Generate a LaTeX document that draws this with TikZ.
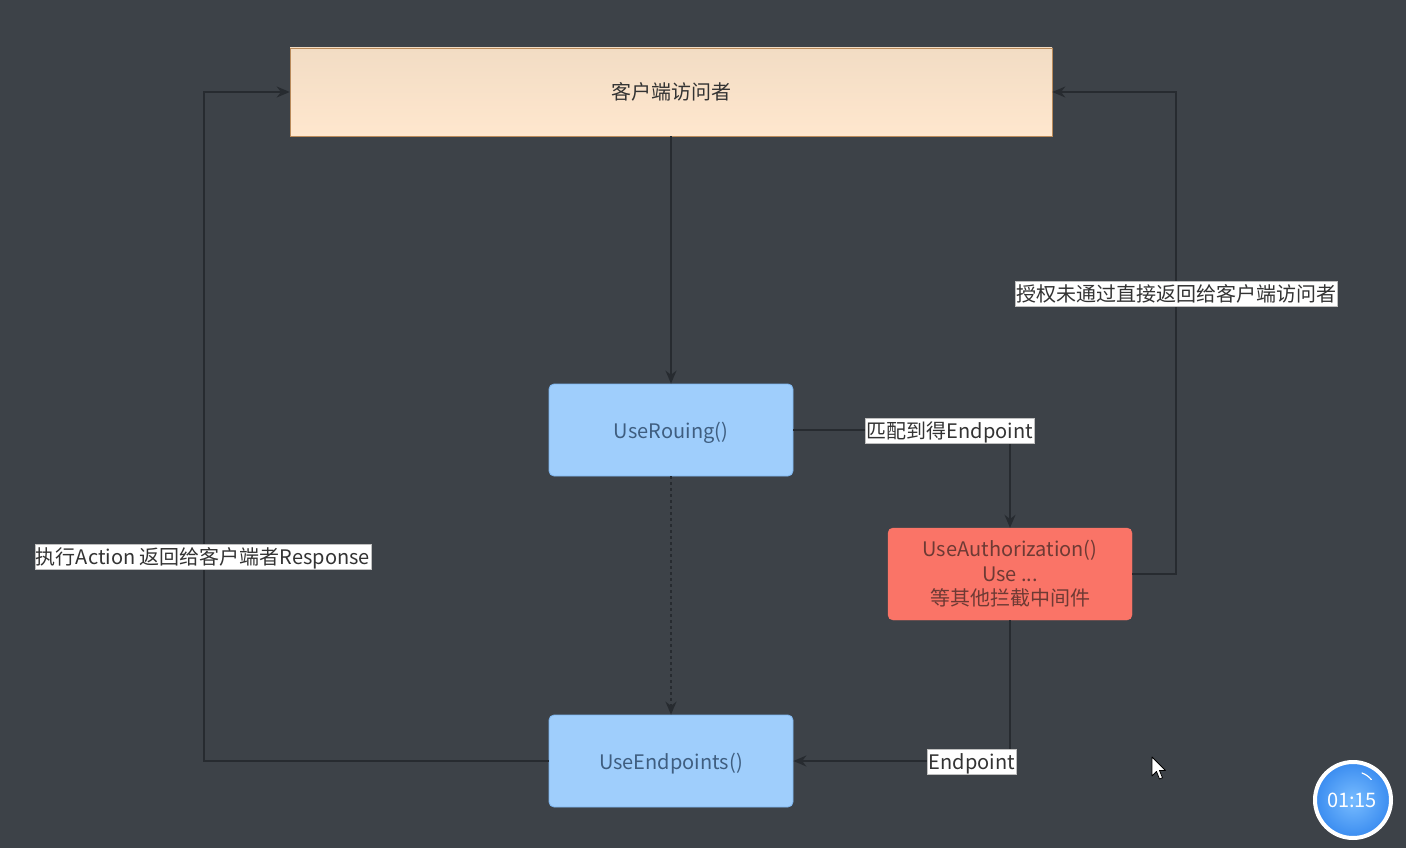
\documentclass[tikz,border=0pt]{standalone}
\usepackage{fontspec}
\setmainfont{Noto Sans CJK SC}
\usetikzlibrary{arrows.meta,shapes.geometric}
\definecolor{bg}{HTML}{3D4248}
\definecolor{edge}{HTML}{272B30}
\definecolor{peachtop}{HTML}{F2DCC4}
\definecolor{peachbot}{HTML}{FFE7CE}
\definecolor{peachline}{HTML}{B98A5A}
\definecolor{bluefill}{HTML}{9FCEFC}
\definecolor{blueline}{HTML}{7DB5EE}
\definecolor{bluetext}{HTML}{3F5E80}
\definecolor{redfill}{HTML}{FA7467}
\definecolor{redtext}{HTML}{6E3A34}
\definecolor{labeltext}{HTML}{333333}
\definecolor{timerA}{HTML}{3A8CF0}
\definecolor{timerB}{HTML}{78BCFF}
\tikzset{
  x=1pt, y=-1pt,
  every node/.style={font=\fontsize{20}{24}\selectfont},
  clientbox/.style={rectangle, minimum width=762pt, minimum height=88pt,
    top color=peachtop, bottom color=peachbot, draw=peachline, line width=0.6pt,
    text=labeltext, text height=20pt, text depth=4pt},
  bluebox/.style={rectangle, rounded corners=5pt, minimum width=244pt, minimum height=92pt,
    fill=bluefill, draw=blueline, line width=0.8pt, text=bluetext,
    text height=20pt, text depth=4pt},
  redbox/.style={rectangle, rounded corners=5pt, minimum width=244pt, minimum height=92pt,
    fill=redfill, draw=redfill, text=redtext, align=center,
    font=\fontsize{20}{24.5}\selectfont},
  conn/.style={draw=edge, line width=1.7pt,
    -{Stealth[length=13pt,width=11pt]}},
  edgelabel/.style={fill=white, draw=gray!50, line width=0.5pt, text=labeltext,
    inner sep=1.2pt, outer sep=0pt, text height=19pt, text depth=4pt}
}
\begin{document}
\begin{tikzpicture}
  % canvas
  \fill[bg] (0,0) rectangle (1406,848);
  \useasboundingbox (0,0) rectangle (1406,848);

  % boxes
  \node[clientbox] (client) at (671,92) {客户端访问者};
  \node[bluebox] (routing) at (671,430) {UseRouing()};
  \node[bluebox] (endpoints) at (671,761) {UseEndpoints()};
  \node[redbox] (auth) at (1010,574) {UseAuthorization()\\Use ...\\等其他拦截中间件};

  % bend points of the connectors
  \coordinate (rightbend) at (1176,574);
  \coordinate (leftbend) at (204,761);
  \coordinate (authdown) at (1010,761);

  % connectors
  \draw[conn] (client.south) -- (routing.north);
  \draw[conn, dash pattern=on 3pt off 3pt] (routing.south) -- (endpoints.north);
  \draw[conn] (routing.east) -| (auth.north);
  \draw[conn] (auth.east) -- (rightbend) |- (client.east);
  \draw[conn] (auth.south) -- (authdown) -- (endpoints.east);
  \draw[conn] (endpoints.west) -- (leftbend) |- (client.west);

  % connector labels
  \node[edgelabel] (lblmatch) at (950,431) {匹配到得Endpoint};
  \node[edgelabel] (lbldeny) at (1176,294) {授权未通过直接返回给客户端访问者};
  \node[edgelabel] (lblendpoint) at (972,762) {Endpoint};
  \node[edgelabel] (lblaction) at (203,557) {执行Action 返回给客户端者Response};

  % mouse pointer
  \filldraw[fill=white, draw=black, line width=0.8pt, line join=round]
    (1152,757) -- (1152,776) -- (1156.5,771.5) -- (1159.5,779) -- (1162.5,777.8)
    -- (1159.5,770.5) -- (1165.5,770.5) -- cycle;

  % timer badge
  \shade[inner color=timerB, outer color=timerA] (1353,800) circle (38);
  \draw[white, line width=4pt] (1353,800) circle (38);
  \draw[white, line width=1.2pt, line cap=round] (1362,773) arc (-70:-40:22);
  \node[text=white, font=\fontsize{20}{24}\selectfont] (timer) at (1352,800) {01:15};
\end{tikzpicture}
\end{document}
